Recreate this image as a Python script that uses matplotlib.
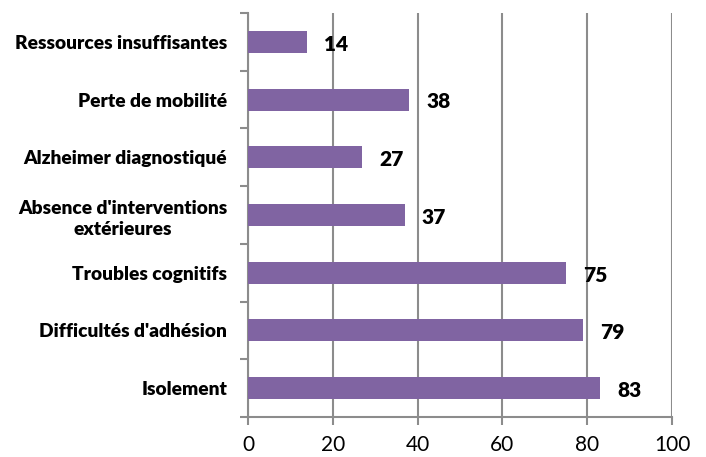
import matplotlib
matplotlib.use("Agg")
import matplotlib.pyplot as plt
import numpy as np

categories = ["Isolement", "Difficultés d'adhésion", "Troubles cognitifs",
              "Absence d'interventions\nextérieures", "Alzheimer diagnostiqué",
              "Perte de mobilité", "Ressources insuffisantes"]
values = [83, 79, 75, 37, 27, 38, 14]
xticks = [0, 20, 40, 60, 80, 100]

plt.rcParams['font.family'] = ['Lato', 'DejaVu Sans']

fig = plt.figure(figsize=(7.06, 4.57), dpi=100)
ax = fig.add_axes([248/706, 1-417/457, 424/706, 404/457])

y = np.arange(len(categories))
ax.barh(y, values, height=0.38, color='#8064A2', zorder=3)
for yi, v in zip(y, values):
    ax.text(v + 4, yi - 0.04, str(v), va='center', ha='left',
            fontsize=15, fontweight='heavy', color='black', zorder=4)

ax.set_xlim(0, 100)
ax.set_ylim(-0.5, len(categories) - 0.5)
ax.set_xticks(xticks)
ax.set_xticklabels([str(t) for t in xticks], fontsize=15)
ax.grid(axis='x', color='#8c8c8c', linewidth=1.5, zorder=0)
ax.set_yticks(y)
ax.set_yticklabels(categories, fontsize=13.8, fontweight='heavy',
                   multialignment='center', linespacing=1.3)
ax.set_yticks(np.arange(-0.5, len(categories)), minor=True)
ax.tick_params(axis='y', which='major', length=0, pad=15)
ax.tick_params(axis='y', which='minor', length=6, width=1.5, color='#8c8c8c', direction='out')
ax.tick_params(axis='x', length=6, width=1.5, color='#8c8c8c', direction='out', pad=7)
for s in ['top', 'right']:
    ax.spines[s].set_visible(False)
for s in ['left', 'bottom']:
    ax.spines[s].set_color('#8c8c8c')
    ax.spines[s].set_linewidth(1.5)

fig.savefig('out.png', dpi=100)
